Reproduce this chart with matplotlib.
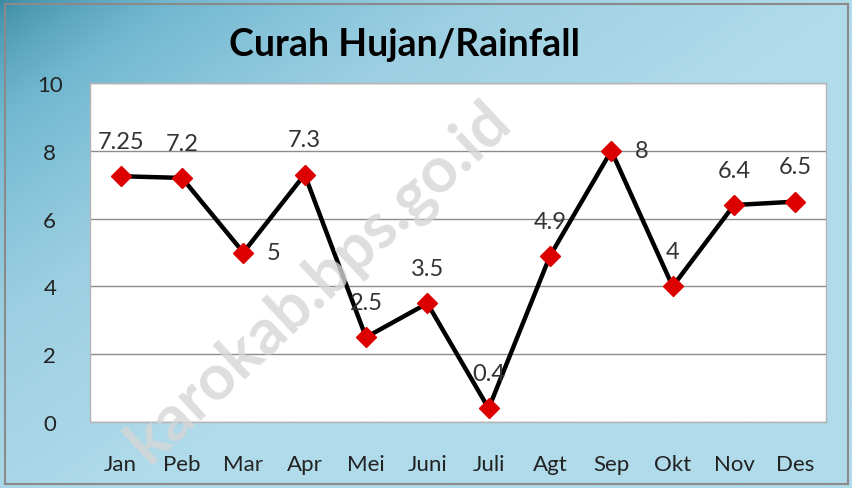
import numpy as np
import matplotlib
matplotlib.use("Agg")
import matplotlib.pyplot as plt
from matplotlib.colors import LinearSegmentedColormap
from matplotlib.patches import Rectangle

months = ["Jan", "Peb", "Mar", "Apr", "Mei", "Juni", "Juli", "Agt", "Sep", "Okt", "Nov", "Des"]
rainfall = [7.25, 7.2, 5, 7.3, 2.5, 3.5, 0.4, 4.9, 8, 4, 6.4, 6.5]
value_labels = ["7.25", "7.2", "5", "7.3", "2.5", "3.5", "0.4", "4.9", "8", "4", "6.4", "6.5"]
label_pos = ["above", "above", "right", "above", "above", "above", "above", "above", "right", "above", "above", "above"]
yticks = [0, 2, 4, 6, 8, 10]

W, H = 853, 489
fig = plt.figure(figsize=(W / 100, H / 100), dpi=100)

# gradient background (row 0 = top)
bg = fig.add_axes([0, 0, 1, 1], zorder=-10)
bg.set_axis_off()
xx, yy = np.meshgrid(np.linspace(0, 1, 300), np.linspace(0, 1, 200))
t = np.clip(1.0 * xx + 0.85 * yy, 0, 1) ** 0.7
cmap = LinearSegmentedColormap.from_list("bg", ["#3a8aa3", "#72b8d0", "#9ccfe2", "#b0dbea"])
bg.imshow(t, cmap=cmap, aspect="auto", extent=[0, 1, 0, 1], origin="upper")
bg.set_xlim(0, 1)
bg.set_ylim(0, 1)
bg.add_patch(Rectangle((5 / W, 4 / H), (W - 10) / W, (H - 9) / H, fill=False,
                       edgecolor="#8a8a8a", linewidth=1.5, transform=bg.transAxes))

fam = ["Lato", "DejaVu Sans"]
ax = fig.add_axes([90 / W, (H - 423) / H, (826 - 90) / W, (423 - 84) / H])
ax.set_facecolor("white")
ax.set_ylim(0, 10)
ax.set_xlim(-0.5, len(months) - 0.5)
ax.set_yticks(yticks)
ax.set_yticklabels([str(v) for v in yticks], fontsize=16, color="#222222", family=fam, ha="center")
ax.tick_params(axis="y", length=0, pad=29)
ax.set_xticks(range(len(months)))
ax.set_xticklabels(months, fontsize=16, color="#222222", family=fam)
ax.tick_params(axis="x", length=0, pad=23)
for s in ax.spines.values():
    s.set_color("#b4b4b4")
    s.set_linewidth(1.0)
ax.yaxis.grid(True, color="#8c8c8c", linewidth=1.0)
ax.set_axisbelow(True)

x = np.arange(len(months))
ax.plot(x, rainfall, color="black", linewidth=3.2, zorder=3)
ax.plot(x, rainfall, linestyle="none", marker="D", markersize=10,
        markerfacecolor="#dd0000", markeredgecolor="#dd0000", zorder=4)

for xi, v, lab, pos in zip(x, rainfall, value_labels, label_pos):
    if pos == "above":
        ax.annotate(lab, (xi, v), xytext=(0, 25), textcoords="offset points",
                    ha="center", va="center", fontsize=17, color="#333333", family=fam, zorder=5)
    else:
        ax.annotate(lab, (xi, v), xytext=(22, 0), textcoords="offset points",
                    ha="center", va="center", fontsize=17, color="#333333", family=fam, zorder=5)

fig.text(405 / W, 1 - 45 / H, "Curah Hujan/Rainfall", ha="center", va="center",
         fontsize=27, fontweight="bold", color="black", family=fam)

# watermark
fig.text(318 / W, 1 - 282 / H, "karokab.bps.go.id", ha="center", va="center",
         rotation=43, fontsize=46, fontweight="bold", color="#d6d6d6", alpha=0.8,
         family=fam, zorder=20)

fig.savefig("out.png", dpi=100)
